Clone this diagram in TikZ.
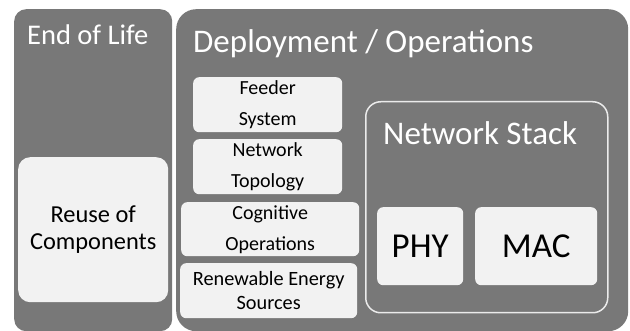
\documentclass[tikz,border=0pt]{standalone}
\usepackage{fontspec}
\setmainfont{Carlito}
\definecolor{panelgray}{HTML}{787878}
\definecolor{boxfill}{HTML}{F2F2F2}
\begin{document}
\begin{tikzpicture}[x=1pt,y=-1pt,
  panel/.style={draw=none,fill=panelgray,inner sep=0pt,anchor=north west},
  lightbox/.style={draw=none,fill=boxfill,rounded corners=6pt,inner sep=0pt,anchor=north west,align=center,text=black},
  title/.style={text=white,inner sep=0pt,anchor=base west},
  smalltxt/.style={font=\fontsize{20}{31}\selectfont},
]
\useasboundingbox (0,0) rectangle (630,331);
\fill[white] (0,0) rectangle (630,331);
% panels
\node[panel,rounded corners=12pt,minimum width=158pt,minimum height=322pt] (eol) at (14,9) {};
\node[panel,rounded corners=20pt,minimum width=452pt,minimum height=322pt] (dep) at (176,9) {};
\node[title,font=\fontsize{28.5}{31}\selectfont] (eolt) at (27,45) {End of Life};
\node[title,font=\fontsize{33}{36}\selectfont] (dept) at (193,53) {Deployment / Operations};
% reuse
\node[lightbox,rounded corners=12pt,minimum width=150pt,minimum height=145pt,font=\fontsize{24.4}{27}\selectfont] (reuse) at (18,157) {Reuse of\\Components};
% middle column
\node[lightbox,smalltxt,minimum width=149pt,minimum height=55pt] (feeder) at (193,77) {Feeder\\System};
\node[lightbox,smalltxt,minimum width=149pt,minimum height=55pt] (topo) at (193,139) {Network\\Topology};
\node[lightbox,smalltxt,minimum width=178pt,minimum height=54pt] (cog) at (181,202) {Cognitive\\Operations};
\node[lightbox,font=\fontsize{20.3}{24}\selectfont,minimum width=177pt,minimum height=55pt] (ren) at (180,263) {Renewable Energy\\Sources};
% network stack
\node[draw=white!92!black,line width=1.5pt,rounded corners=15pt,inner sep=0pt,anchor=north west,minimum width=242pt,minimum height=211pt] (stack) at (365,101) {};
\node[title,font=\fontsize{33}{36}\selectfont] (stackt) at (383,145) {Network Stack};
\node[lightbox,font=\fontsize{35}{38}\selectfont,minimum width=86pt,minimum height=78pt] (phy) at (377,207) {PHY};
\node[lightbox,font=\fontsize{35}{38}\selectfont,minimum width=122pt,minimum height=78pt] (mac) at (475,207) {MAC};
\end{tikzpicture}
\end{document}
